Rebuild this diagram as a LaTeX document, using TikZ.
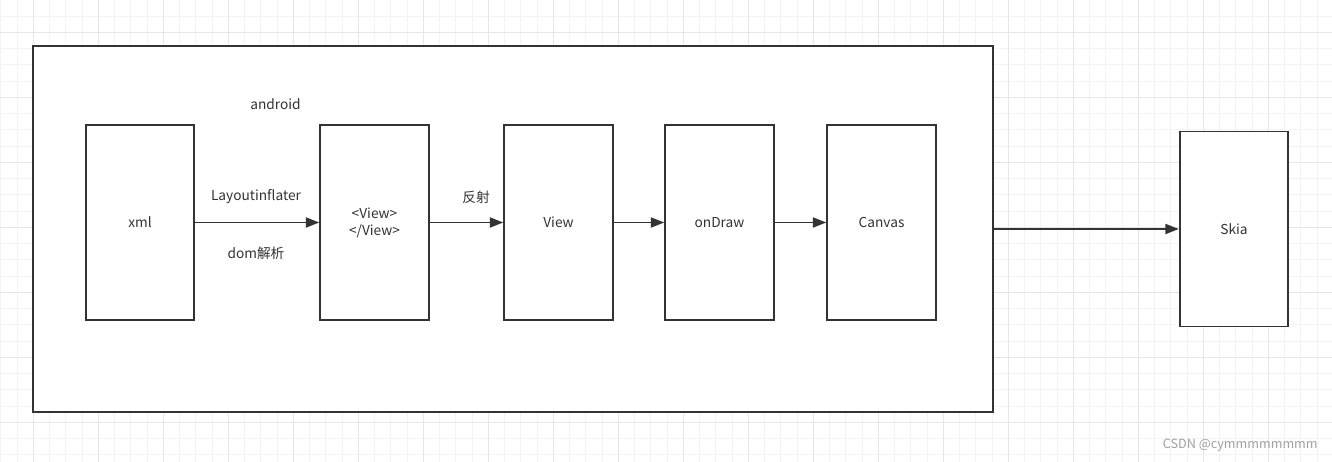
\documentclass[tikz,border=0pt]{standalone}
\usepackage{fontspec}
\setmainfont{Noto Sans CJK SC}
\usepackage{xcolor}
\usepackage{tikz}
\usetikzlibrary{arrows.meta, positioning}
\definecolor{linedark}{HTML}{333333}
\definecolor{gridminor}{HTML}{F3F3F3}
\definecolor{gridmajor}{HTML}{E6E6E6}
\definecolor{markgray}{HTML}{A0A0A0}

\begin{document}
\begin{tikzpicture}[
    x=0.02cm, y=-0.02cm,
    frame/.style={
        draw=linedark, fill=white, line width=1.1pt,
        minimum width=19.2cm, minimum height=7.32cm, inner sep=0pt
    },
    stepbox/.style={
        draw=linedark, fill=white, line width=1.1pt,
        minimum width=2.17cm, minimum height=3.9cm, inner sep=0pt,
        font=\fontsize{7.8}{9.6}\selectfont, text=linedark, align=center
    },
    lbl/.style={font=\fontsize{7.8}{9.6}\selectfont, text=linedark, inner sep=1pt},
    arrow/.style={-{Triangle[length=0.27cm, width=0.2cm]}, line width=1.1pt, color=linedark}
]
\useasboundingbox (0,0) rectangle (1332,462);

% Grid background
\foreach \gx in {0.8,17.05,...,1332} \draw[gridminor, line width=0.6pt] (\gx,0) -- (\gx,462);
\foreach \gy in {-0.2,16.05,...,462} \draw[gridminor, line width=0.6pt] (0,\gy) -- (1332,\gy);
\foreach \gx in {33.3,98.3,...,1332} \draw[gridmajor, line width=0.6pt] (\gx,0) -- (\gx,462);
\foreach \gy in {32.3,97.3,...,462} \draw[gridmajor, line width=0.6pt] (0,\gy) -- (1332,\gy);

% Outer frame
\node[frame] (frame) at (513,229) {};

% Steps
\node[stepbox] (xml) at (140,222.5) {xml};
\node[stepbox] (tagview) at (374.5,222.5) {<View>\\</View>};
\node[stepbox] (view) at (558.5,222.5) {View};
\node[stepbox] (ondraw) at (719.5,222.5) {onDraw};
\node[stepbox] (canvas) at (881.5,222.5) {Canvas};
\node[stepbox] (skia) at (1234,229) {Skia};

% Arrows
\draw[arrow] (xml) -- (tagview);
\draw[arrow] (tagview) -- (view);
\draw[arrow] (view) -- (ondraw);
\draw[arrow] (ondraw) -- (canvas);
\draw[arrow] (frame.east) -- (skia.west);

% Labels
\node[lbl] (android) at (275.5,104) {android};
\node[lbl] (inflater) at (256,197) {Layoutinflater};
\node[lbl] (domparse) at (256,253) {dom解析};
\node[lbl] (reflect) at (476,197) {反射};

% Watermark
\node[font=\fontsize{7.2}{9}\selectfont, text=markgray, anchor=east, inner sep=0pt] (mark) at (1318,445) {CSDN @cymmmmmmmm};

\end{tikzpicture}
\end{document}
